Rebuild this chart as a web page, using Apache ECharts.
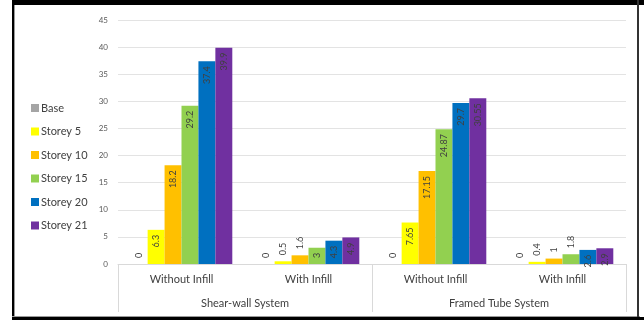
<!DOCTYPE html>
<html>
<head>
<meta charset="utf-8">
<script src="https://cdn.jsdelivr.net/npm/echarts@6/dist/echarts.min.js"></script>
<style>
html,body{margin:0;padding:0;background:#fff;}
#chart{width:644px;height:320px;}
</style>
</head>
<body>
<div id="chart"></div>
<script>
var categories = ['Without Infill', 'With Infill', 'Without Infill', 'With Infill'];
var systems = ['Shear-wall System', 'Framed Tube System'];
var seriesNames = ['Base', 'Storey 5', 'Storey 10', 'Storey 15', 'Storey 20', 'Storey 21'];
var base = [0, 0, 0, 0];
var storey5 = [6.3, 0.5, 7.65, 0.4];
var storey10 = [18.2, 1.6, 17.15, 1];
var storey15 = [29.2, 3, 24.87, 1.8];
var storey20 = [37.4, 4.3, 29.7, 2.6];
var storey21 = [39.9, 4.9, 30.55, 2.9];
var yTicks = [0, 5, 10, 15, 20, 25, 30, 35, 40, 45];

var colors = ['#A5A5A5', '#FFFF00', '#FFC000', '#92D050', '#0070C0', '#7030A0'];
var allValues = [base, storey5, storey10, storey15, storey20, storey21];
var FONT = 'Lato, "Open Sans", sans-serif';

function makeData(vals) {
  return vals.map(function (v) {
    var inside = v >= 2.5;
    return {
      value: v,
      label: inside ? {
        position: 'insideTop', rotate: 90, align: 'right', verticalAlign: 'middle', distance: 5
      } : {
        position: 'top', rotate: 90, align: 'left', verticalAlign: 'middle', distance: 6
      }
    };
  });
}

var series = seriesNames.map(function (name, i) {
  return {
    name: name,
    type: 'bar',
    xAxisIndex: 0,
    barGap: '0%',
    barCategoryGap: '20%',
    itemStyle: { color: colors[i] },
    label: { show: true, fontSize: 9, color: '#404040', fontFamily: FONT, textBorderWidth: 0, textBorderColor: 'transparent' },
    data: makeData(allValues[i])
  };
});

var chart = echarts.init(document.getElementById('chart'), null, { renderer: 'canvas' });
chart.setOption({
  animation: false,
  backgroundColor: '#ffffff',
  textStyle: { fontFamily: FONT },
  grid: { left: 118, right: 18, top: 20, bottom: 56, containLabel: false },
  legend: {
    orient: 'vertical',
    left: 26,
    top: 96,
    itemWidth: 8,
    itemHeight: 8,
    itemGap: 9.5,
    icon: 'rect',
    data: seriesNames,
    textStyle: { fontSize: 11, color: '#404040', fontFamily: FONT, lineHeight: 14, padding: [0, 0, 0, -3] }
  },
  xAxis: [
    {
      type: 'category',
      data: categories,
      position: 'bottom',
      axisLine: { show: true, lineStyle: { color: '#D9D9D9', width: 1 } },
      axisTick: { show: false },
      axisLabel: { interval: 0, margin: 10, fontSize: 11, color: '#404040', fontFamily: FONT }
    },
    {
      type: 'category',
      data: systems,
      position: 'bottom',
      axisLine: { show: false },
      axisTick: { show: true, length: 48, interval: 0, lineStyle: { color: '#D9D9D9' } },
      axisLabel: { interval: 0, margin: 34, fontSize: 11, color: '#404040', fontFamily: FONT }
    }
  ],
  yAxis: {
    type: 'value',
    min: yTicks[0],
    max: yTicks[yTicks.length - 1],
    interval: 5,
    axisLine: { show: false },
    axisTick: { show: false },
    axisLabel: { fontSize: 8, color: '#595959', margin: 10, fontFamily: FONT },
    splitLine: { lineStyle: { color: '#E3E3E3', width: 1 } }
  },
  graphic: [
    { type: 'rect', shape: { x: 12, y: 0, width: 632, height: 5 }, style: { fill: '#000' }, silent: true },
    { type: 'rect', shape: { x: 12, y: 0, width: 2, height: 320 }, style: { fill: '#000' }, silent: true },
    { type: 'rect', shape: { x: 14, y: 5, width: 1, height: 312 }, style: { fill: '#9a9a9a' }, silent: true },
    { type: 'rect', shape: { x: 12, y: 316, width: 628, height: 1 }, style: { fill: '#9a9a9a' }, silent: true },
    { type: 'rect', shape: { x: 12, y: 317, width: 632, height: 3 }, style: { fill: '#000' }, silent: true },
    { type: 'rect', shape: { x: 637, y: 0, width: 2, height: 317 }, style: { fill: '#333' }, silent: true }
  ],
  series: series
});
</script>
</body>
</html>
